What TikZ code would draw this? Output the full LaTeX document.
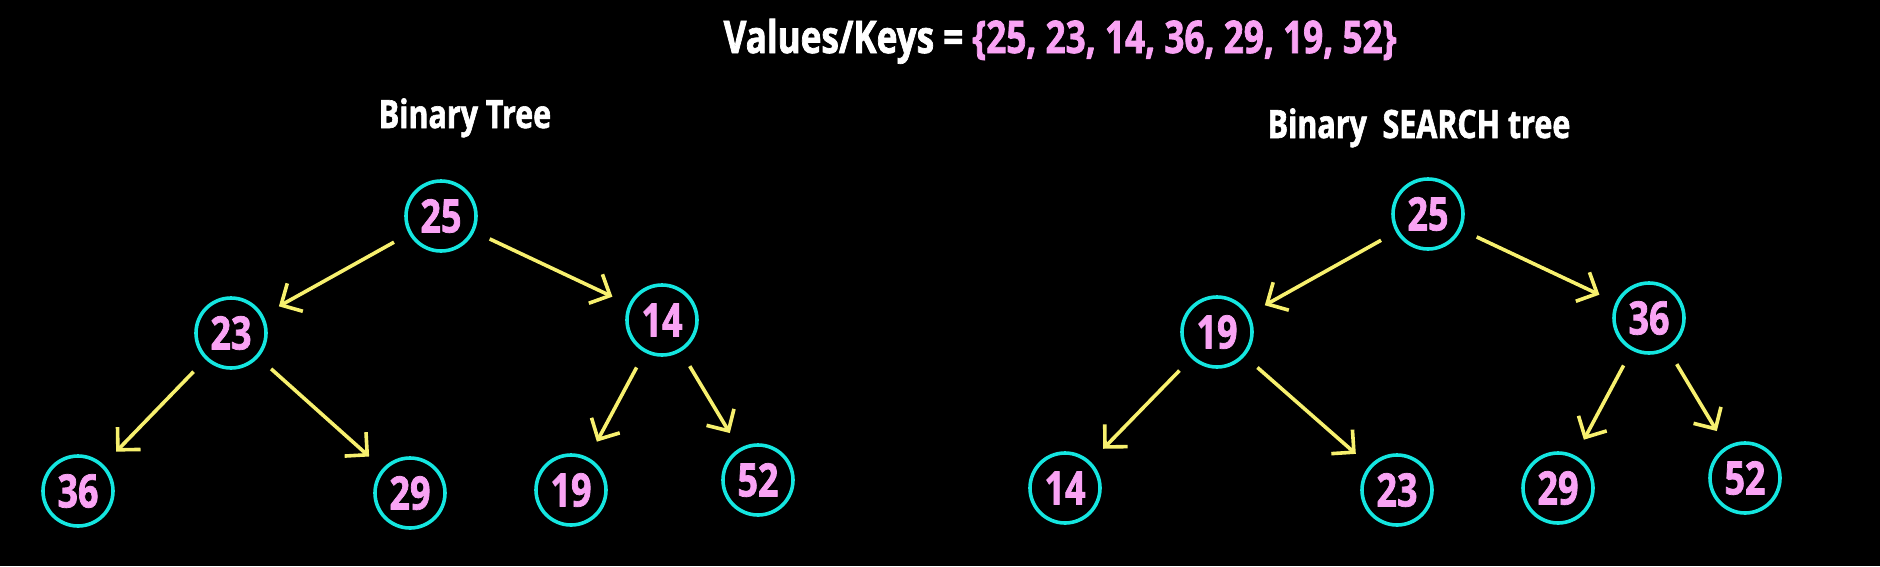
\documentclass[tikz,border=0pt]{standalone}
\usepackage{fontspec}
\setmainfont{Open Sans}[FakeStretch=0.78, BoldFeatures={FakeBold=1.6}]
\usetikzlibrary{positioning}
\usetikzlibrary{arrows.meta}
\definecolor{keypink}{HTML}{F9A3F4}
\definecolor{ringcyan}{HTML}{14E6E0}
\definecolor{edgeyellow}{HTML}{F7F06E}
\tikzset{>={Straight Barb[length=16pt,width=32pt]}}
\tikzset{key/.style={draw=ringcyan, circle, line width=3.6pt, minimum size=70pt, inner sep=0pt, text=keypink, font=\fontsize{46}{46}\selectfont\bfseries}}
\tikzset{ptr/.style={->, draw=edgeyellow, line width=3.6pt, shorten <=17pt, shorten >=18pt}}
\tikzset{heading/.style={anchor=base, text=white, inner sep=0pt, font=\fontsize{39}{39}\selectfont\bfseries}}

\begin{document}
\begin{tikzpicture}[x=1pt, y=-1pt, on grid]
        \fill[black] (0,0) rectangle (1880,566);
        \useasboundingbox (0,0) rectangle (1880,566);

        \node[heading, font=\fontsize{45}{45}\selectfont\bfseries] (keys) at (1060,53) {Values/Keys = {\color{keypink}\{25, 23, 14, 36, 29, 19, 52\}}};
        \node[heading] (bt) at (465,128) {Binary Tree};
        \node[heading] (bst) at (1419,138) {Binary\hspace{0.2em} SEARCH tree};

        % binary tree
        \node[key] (l25) at (441,216) {25};
        \node[key, below left=117pt and 210pt of l25] (l23) {23};
        \node[key, below right=104pt and 221pt of l25] (l14) {14};
        \node[key, below left=158pt and 153pt of l23] (l36) {36};
        \node[key, below right=160pt and 179pt of l23] (l29) {29};
        \node[key, below left=170pt and 91pt of l14] (l19) {19};
        \node[key, below right=160pt and 96pt of l14] (l52) {52};

        \draw[ptr] (l25) -- (l23);
        \draw[ptr] (l25) -- (l14);
        \draw[ptr] (l23) -- (l36);
        \draw[ptr] (l23) -- (l29);
        \draw[ptr] (l14) -- (l19);
        \draw[ptr] (l14) -- (l52);

        % binary search tree
        \node[key] (r25) at (1428,214) {25};
        \node[key, below left=118pt and 211pt of r25] (r19) {19};
        \node[key, below right=104pt and 221pt of r25] (r36) {36};
        \node[key, below left=156pt and 152pt of r19] (r14) {14};
        \node[key, below right=158pt and 180pt of r19] (r23) {23};
        \node[key, below left=170pt and 91pt of r36] (r29) {29};
        \node[key, below right=160pt and 96pt of r36] (r52) {52};

        \draw[ptr] (r25) -- (r19);
        \draw[ptr] (r25) -- (r36);
        \draw[ptr] (r19) -- (r14);
        \draw[ptr] (r19) -- (r23);
        \draw[ptr] (r36) -- (r29);
        \draw[ptr] (r36) -- (r52);
    \end{tikzpicture}
\end{document}
